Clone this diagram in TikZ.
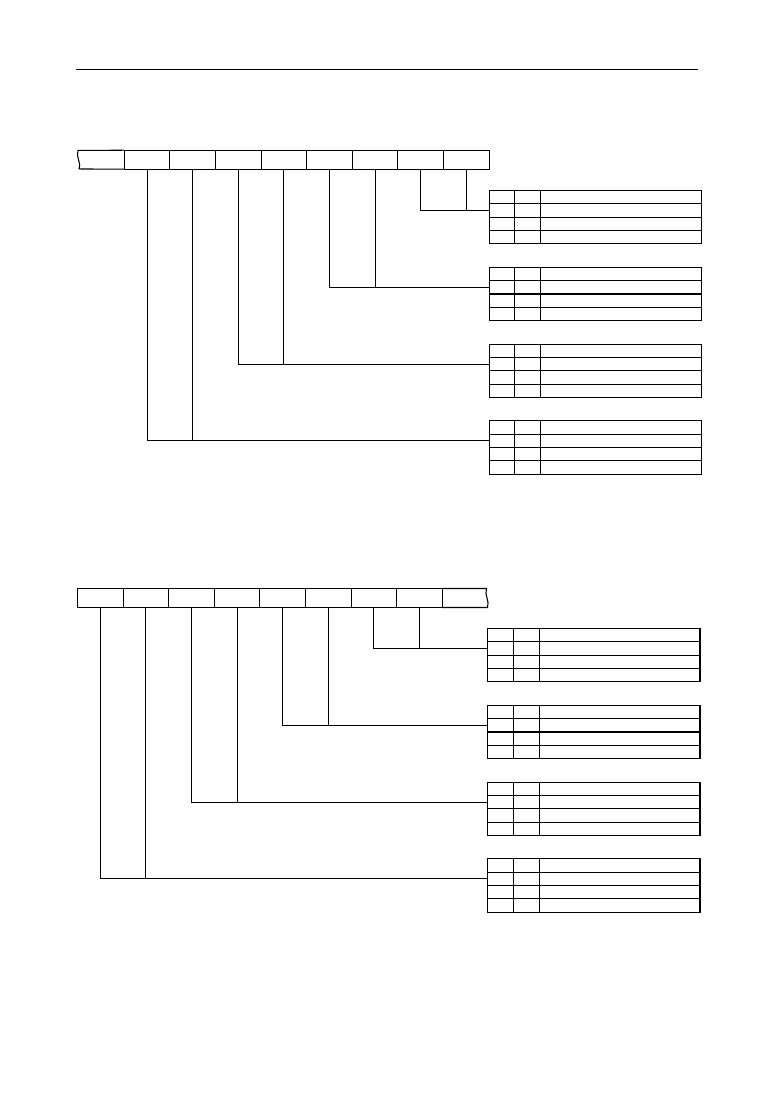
\documentclass[tikz,border=0pt]{standalone}
\usepackage{tikz}
\usetikzlibrary{positioning}

\tikzset{
  regcell/.style={draw,rectangle,inner sep=0pt,outer sep=0pt,minimum width=34.2pt,minimum height=14.25pt},
  bitcell/.style={draw,rectangle,inner sep=0pt,outer sep=0pt,minimum height=10pt},
}

\begin{document}
\begin{tikzpicture}[x=0.75pt,y=-0.75pt,line width=0.8pt]
        \useasboundingbox (0,0) rectangle (774,1093);
        \coordinate (rule1) at (76,69.3);
        \coordinate (rule2) at (697.7,69.3);
        \draw (rule1) -- (rule2);

        % first register
        \node[regcell,draw=none] (a1) at (101.5,159.7) {};
        \foreach \i in {2,...,9}
            \node[regcell] (a\i) at (78.7+45.6*\i-22.8,159.7) {};
        \draw (a1.north east) -- (78,150.45) .. controls (75.5,157) and (81.5,162) .. (79,168.95) -- (a1.south east);

        \foreach \t/\ty in {1/190.5,2/267.3,3/344.1,4/420.9} {
            \node[bitcell,minimum width=19.125pt,anchor=north west] (p\t-1-1) at (489.3,\ty) {};
            \foreach \r [count=\s from 1] in {2,3,4}
                \node[bitcell,minimum width=19.125pt,below=0pt of p\t-\s-1] (p\t-\r-1) {};
            \foreach \r in {1,...,4} {
                \node[bitcell,minimum width=19.5pt,right=0pt of p\t-\r-1] (p\t-\r-2) {};
                \node[bitcell,minimum width=120.5pt,right=0pt of p\t-\r-2] (p\t-\r-3) {};
            }
        }

        \foreach \t/\l/\r in {1/8/9,2/6/7,3/4/5,4/2/3} {
            \draw (a\l.south) |- (p\t-2-1.west);
            \draw (a\r.south) -- (a\r.south |- p\t-2-1.west);
        }

        % second register
        \foreach \i in {1,...,8}
            \node[regcell] (b\i) at (77.5+45.6*\i-22.8,598) {};
        \node[regcell,draw=none] (b9) at (464.7,598) {};
        \draw (b9.north west) -- (486.5,588.5) .. controls (484,595) and (490,601) .. (487.5,607.5) -- (b9.south west);

        \foreach \t/\ty in {1/628.5,2/705.3,3/782.1,4/858.9} {
            \node[bitcell,minimum width=19.5pt,anchor=north west] (q\t-1-1) at (487.3,\ty) {};
            \foreach \r [count=\s from 1] in {2,3,4}
                \node[bitcell,minimum width=19.5pt,below=0pt of q\t-\s-1] (q\t-\r-1) {};
            \foreach \r in {1,...,4} {
                \node[bitcell,minimum width=19.8pt,right=0pt of q\t-\r-1] (q\t-\r-2) {};
                \node[bitcell,minimum width=120.2pt,right=0pt of q\t-\r-2] (q\t-\r-3) {};
            }
        }

        \foreach \t/\l/\r in {1/7/8,2/5/6,3/3/4,4/1/2} {
            \draw (b\l.south) |- (q\t-2-1.west);
            \draw (b\r.south) -- (b\r.south |- q\t-2-1.west);
        }
    \end{tikzpicture}
\end{document}
